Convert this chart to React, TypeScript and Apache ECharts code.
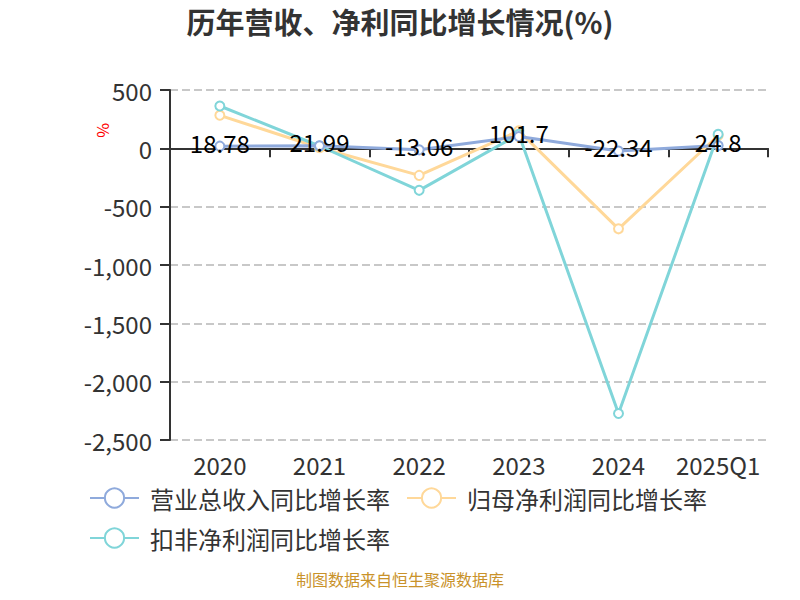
import React, { useEffect, useRef } from "react";
import * as echarts from "echarts";

const categories = ["2020", "2021", "2022", "2023", "2024", "2025Q1"];
const revenueGrowth = [18.78, 21.99, -13.06, 101.7, -22.34, 24.8];
const netProfitGrowth = [283, 5, -232, 150, -690, 110];
const deductedProfitGrowth = [363, 20, -360, 120, -2273, 120];
const seriesNames = ["营业总收入同比增长率", "归母净利润同比增长率", "扣非净利润同比增长率"];
const colors = ["#8FAADC", "#FFD899", "#80D5D9"];

const FONT = "'Noto Sans CJK SC', 'Noto Sans', sans-serif";

export default function App() {
  const ref = useRef<HTMLDivElement>(null);
  useEffect(() => {
    if (!ref.current) return;
    const chart = echarts.init(ref.current, null, { renderer: "svg" });
    const mkSeries = (name: string, data: number[], color: string, withLabel: boolean) => ({
      name,
      type: "line",
      data,
      symbol: "emptyCircle",
      symbolSize: 9,
      lineStyle: { width: 3, color },
      itemStyle: { color, borderWidth: 2 },
      label: withLabel
        ? { show: true, position: "inside", offset: [0, -4], color: "#000", fontSize: 24, fontFamily: FONT }
        : { show: false },
      z: withLabel ? 3 : 2,
    });
    chart.setOption({
      animation: false,
      textStyle: { fontFamily: FONT },
      title: {
        text: "历年营收、净利同比增长情况(%)",
        left: "center",
        top: 1,
        textStyle: { fontSize: 29, fontWeight: "bold", color: "#333", fontFamily: FONT },
      },
      grid: { left: 170, right: 32, top: 90, bottom: 160 },
      legend: {
        left: 84,
        top: 481,
        width: 650,
        itemWidth: 49,
        itemHeight: 24,
        itemGap: 16,
        textStyle: { fontSize: 24, lineHeight: 24, color: "#333", fontFamily: FONT, padding: [0, 0, 0, 6] },
        data: seriesNames,
      },
      xAxis: [
        {
          type: "category",
          data: categories,
          axisLine: { onZero: true, lineStyle: { color: "#333", width: 2 } },
          axisTick: { show: true, length: 9, lineStyle: { color: "#333", width: 2 } },
          axisLabel: { show: false },
        },
        {
          type: "category",
          data: categories,
          position: "bottom",
          axisLine: { show: false, onZero: false },
          axisTick: { show: false },
          axisLabel: {
            show: true,
            interval: 0,
            hideOverlap: false,
            fontSize: 24,
            lineHeight: 24,
            color: "#333",
            margin: 12,
            fontFamily: FONT,
          },
        },
      ],
      yAxis: {
        type: "value",
        min: -2500,
        max: 500,
        interval: 500,
        axisLine: { show: true, lineStyle: { color: "#333", width: 2 } },
        axisTick: { show: true, length: 10, lineStyle: { color: "#333", width: 2 } },
        axisLabel: { fontSize: 24, color: "#333", margin: 18, fontFamily: FONT },
        splitLine: { show: true, lineStyle: { type: "dashed", color: "#c8c8c8", width: 2 } },
      },
      graphic: [
        {
          type: "text",
          x: 112,
          y: 123,
          rotation: -Math.PI / 2,
          originX: 0,
          originY: 0,
          style: { text: "%", fill: "#ff0000", fontSize: 16, fontFamily: FONT },
        },
        {
          type: "text",
          left: "center",
          top: 571,
          style: { text: "制图数据来自恒生聚源数据库", fill: "#C9922A", fontSize: 16, fontFamily: FONT },
        },
      ],
      series: [
        mkSeries(seriesNames[0], revenueGrowth, colors[0], true),
        mkSeries(seriesNames[1], netProfitGrowth, colors[1], false),
        mkSeries(seriesNames[2], deductedProfitGrowth, colors[2], false),
      ],
    });
    return () => chart.dispose();
  }, []);
  return <div ref={ref} style={{ width: 800, height: 600, margin: -8 }} />;
}
